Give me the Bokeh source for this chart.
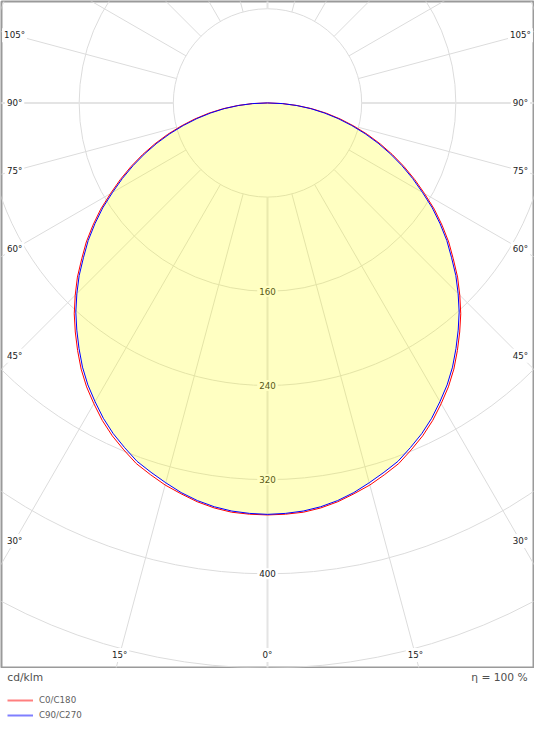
import math
from bokeh.plotting import figure
from bokeh.models import Range1d, Legend, LegendItem
from bokeh.layouts import column
from bokeh.embed import file_html
from bokeh.resources import INLINE
from bokeh.core.properties import value

# ---------------- data (cd/klm) ----------------
gamma_deg = [0, 2.5, 5, 7.5, 10, 12.5, 15, 17.5, 20, 22.5, 25, 27.5, 30, 32.5, 35, 37.5,
             40, 42.5, 45, 47.5, 50, 52.5, 55, 57.5, 60, 62.5, 65, 67.5, 70, 72.5, 75,
             77.5, 80, 82.5, 85, 87.5, 90]
c0_c180 = [350, 349.7, 349, 347, 344, 340, 336, 331, 326, 319, 312, 304, 295, 286, 276, 265,
           254, 243, 231, 219, 206, 194, 181, 168, 154, 141, 128, 115, 102, 89, 76,
           63.5, 51, 38.5, 25.5, 13, 0]
c90_c270 = [349.5, 349, 348, 346, 343, 339, 334, 329, 324, 317, 310, 302, 293, 284, 274, 263,
            252, 241, 229, 217, 204, 192, 179, 166, 152, 139, 126, 113, 100, 87, 74,
            61.5, 49, 37, 24.5, 12.5, 0]

ring_values = [80, 160, 240, 320, 400, 480, 560]
ring_label_values = [160, 240, 320, 400]
ring_label_texts = ["160", "240", "320", "400"]
radial_angles = list(range(0, 360, 15))
main_angles = [0, 90, 180, 270]
angle_label_values = [0, 15, 30, 45, 60, 75, 90, 105]

series_names = ["C0/C180", "C90/C270"]
series_colors = ["#ff0000", "#0000ff"]
unit_text = "cd/klm"
eta_text = "η = 100 %"

# ---------------- geometry ----------------
REF_W, REF_H = 550, 750
W = 534
s = W / REF_W
cx_ref, cy_ref = 275.0, 105.5      # pole position in reference pixels
ppu_ref = 1.2125                   # reference px per cd/klm
frame_bottom_ref = 687
lab_inset_x_ref = 14.5
lab_bottom_ref = 674

k = ppu_ref * s
H1 = int(round(frame_bottom_ref * s)) + 1
H2 = int(round(REF_H * s)) - H1
cx, cy = cx_ref * s, cy_ref * s

x_range = Range1d((1 - cx) / k, (W - 1 - cx) / k)
y_range = Range1d(-(H1 - 1 - cy) / k, (cy - 1) / k)

FONT_NAME = "DejaVu Sans"
FONT = value(FONT_NAME)
fs_small = f"{9 * s:.1f}px"
fs_big = f"{11 * s:.1f}px"

p = figure(width=W, height=H1, x_range=x_range, y_range=y_range,
           output_backend="svg", toolbar_location=None,
           x_axis_type=None, y_axis_type=None, title=None, min_border=1)
p.outline_line_color = "#9a9a9a"
p.outline_line_width = 2
p.background_fill_color = "white"
p.border_fill_color = "white"

# rings
p.circle(x=[0] * len(ring_values), y=[0] * len(ring_values), radius=ring_values,
         fill_color=None, line_color="#dcdcdc", line_width=1)

# radial lines
r_in, r_out = ring_values[0], 800
minor = [a for a in radial_angles if a not in main_angles]
for angs, lw, col in [(minor, 1, "#dcdcdc"), (main_angles, 2, "#e4e4e4")]:
    p.segment(x0=[r_in * math.sin(math.radians(a)) for a in angs],
              y0=[-r_in * math.cos(math.radians(a)) for a in angs],
              x1=[r_out * math.sin(math.radians(a)) for a in angs],
              y1=[-r_out * math.cos(math.radians(a)) for a in angs],
              line_color=col, line_width=lw)

# ring labels
p.text(x=[0] * len(ring_label_values), y=[-v for v in ring_label_values],
       text=ring_label_texts, text_align="center", text_baseline="middle",
       text_font=FONT, text_font_size=fs_small, text_color="#222222",
       background_fill_color="white", padding=2)

# angle labels
xlim = (cx_ref - lab_inset_x_ref) / ppu_ref
ylim = (lab_bottom_ref - cy_ref) / ppu_ref
lx, ly, lt = [], [], []
for g in angle_label_values:
    sg, cg = math.sin(math.radians(g)), math.cos(math.radians(g))
    t = float("inf")
    if sg > 1e-9:
        t = min(t, xlim / sg)
    if cg > 1e-9:
        t = min(t, ylim / cg)
    for sign in ([1] if g == 0 else [-1, 1]):
        lx.append(sign * t * sg)
        ly.append(-t * cg)
        lt.append(f"{g}°")
p.text(x=lx, y=ly, text=lt, text_align="center", text_baseline="middle",
       text_font=FONT, text_font_size=fs_small, text_color="#222222",
       background_fill_color="white", padding=2)


def curve(vals):
    xs, ys = [], []
    for g, v in zip(reversed(gamma_deg), reversed(vals)):
        xs.append(-v * math.sin(math.radians(g)))
        ys.append(-v * math.cos(math.radians(g)))
    for g, v in zip(gamma_deg[1:], vals[1:]):
        xs.append(v * math.sin(math.radians(g)))
        ys.append(-v * math.cos(math.radians(g)))
    return xs, ys


# fill
fx, fy = curve(c90_c270)
p.patch(fx, fy, fill_color="#ffff00", fill_alpha=0.24, line_color=None)

# curves
for vals, col in zip([c0_c180, c90_c270], series_colors):
    xs, ys = curve(vals)
    p.line(xs, ys, line_color=col, line_width=1)

# ---------------- footer: unit, efficiency, legend ----------------
p2 = figure(width=W, height=H2, x_range=Range1d(0, REF_W),
            y_range=Range1d(REF_H, frame_bottom_ref + 1),
            output_backend="svg", toolbar_location=None,
            x_axis_type=None, y_axis_type=None, title=None, min_border=0)
p2.outline_line_color = None
p2.background_fill_color = "white"
p2.border_fill_color = "white"

p2.text(x=[6], y=[697], text=[unit_text], text_align="left", text_baseline="middle",
        text_font=FONT, text_font_size=fs_big, text_color="#505050")
p2.text(x=[544], y=[697], text=[eta_text], text_align="right", text_baseline="middle",
        text_font=FONT, text_font_size=fs_big, text_color="#505050")

items = []
for name, col in zip(series_names, series_colors):
    # legend-only renderer, placed outside the visible range
    r = p2.line(x=[-50, -40], y=[720, 720], line_color=col, line_alpha=0.5, line_width=2)
    items.append(LegendItem(label=name, renderers=[r]))
legend = Legend(items=items, location=(6, 6), orientation="vertical",
                glyph_width=26, glyph_height=14, label_height=14, label_width=10,
                label_standoff=6, spacing=1, padding=0, margin=0,
                border_line_color=None, background_fill_alpha=0,
                label_text_font=FONT_NAME, label_text_font_size=fs_small,
                label_text_color="#606060")
p2.add_layout(legend)

layout = column(p, p2, spacing=0)
open("out.html", "w").write(file_html(layout, INLINE))
